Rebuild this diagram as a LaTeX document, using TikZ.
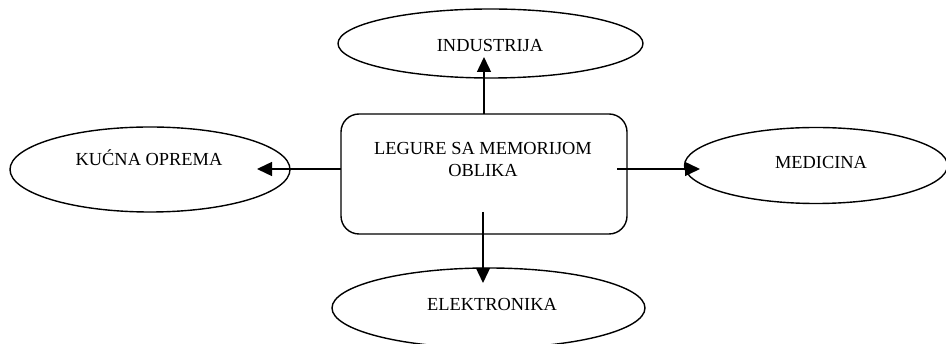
\documentclass[tikz,border=0pt]{standalone}
\usepackage{fontspec}
\setmainfont{Liberation Serif}
\usetikzlibrary{shapes.geometric,arrows.meta}
\begin{document}
\begin{tikzpicture}[x=1pt,y=-1pt,
  oval/.style={draw,ellipse,line width=1.4pt,inner sep=0pt},
  hub/.style={draw,rounded corners=18pt,line width=1.4pt,minimum width=286pt,minimum height=120pt,inner sep=0pt},
  lbl/.style={font=\fontsize{18.4}{22}\selectfont,anchor=base,inner sep=0pt},
  arr/.style={line width=1.4pt,-{Triangle[length=15pt,width=14pt]}}]
\useasboundingbox (0,0) rectangle (946,344);
% ellipses
\node[oval,minimum width=305pt,minimum height=69pt] (ind) at (490.5,43.5) {};
\node[oval,minimum width=280pt,minimum height=85pt] (kuc) at (150,169.5) {};
\node[oval,minimum width=263pt,minimum height=76pt] (med) at (816,165.5) {};
\node[oval,minimum width=313pt,minimum height=80pt] (ele) at (488.5,308) {};
% central box
\node[hub] (box) at (484,174) {};
% labels
\node[lbl] (tind) at (490,52) {INDUSTRIJA};
\node[lbl] (tkuc) at (149,166) {KUĆNA OPREMA};
\node[lbl] (tmed) at (821,169) {MEDICINA};
\node[lbl] (tele) at (492,311) {ELEKTRONIKA};
\node[lbl] (tbox1) at (483,155) {LEGURE SA MEMORIJOM};
\node[lbl] (tbox2) at (483,177) {OBLIKA};
% connector end points
\coordinate (sup) at (484,114);
\coordinate (eup) at (484,57);
\coordinate (sleft) at (341,169);
\coordinate (eleft) at (257,169);
\coordinate (sright) at (617,169);
\coordinate (eright) at (700,169);
\coordinate (sdown) at (483,212);
\coordinate (edown) at (483,283);
\draw[arr] (sup) -- (eup);
\draw[arr] (sleft) -- (eleft);
\draw[arr] (sright) -- (eright);
\draw[arr] (sdown) -- (edown);
\end{tikzpicture}
\end{document}
